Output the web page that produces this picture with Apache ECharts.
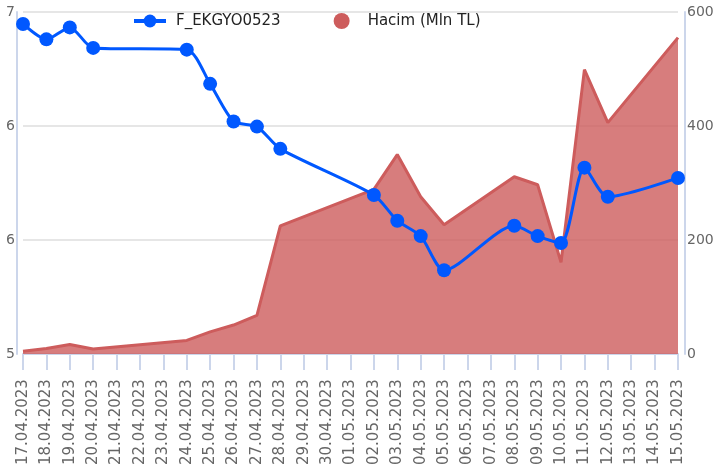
<!DOCTYPE html>
<html>
    <head>
        <meta charset="utf-8">
        <title>F_EKGYO0523</title>
        <script src="https://cdn.jsdelivr.net/npm/echarts@6/dist/echarts.min.js"></script>
        <style>
            html, body { margin: 0; padding: 0; background: #fff; }
        </style>
    </head>
    <body>
        <div id="chart1" style="width:717px;height:468px;"></div>
    </body>
    <script type="text/javascript">
        // gunluk tarihler (hafta sonu / tatil gunleri bos)
        var dates = ['17.04.2023', '18.04.2023', '19.04.2023', '20.04.2023', '21.04.2023', '22.04.2023', '23.04.2023',
                     '24.04.2023', '25.04.2023', '26.04.2023', '27.04.2023', '28.04.2023', '29.04.2023', '30.04.2023',
                     '01.05.2023', '02.05.2023', '03.05.2023', '04.05.2023', '05.05.2023', '06.05.2023', '07.05.2023',
                     '08.05.2023', '09.05.2023', '10.05.2023', '11.05.2023', '12.05.2023', '13.05.2023', '14.05.2023',
                     '15.05.2023'];
        var price = [6.93, 6.84, 6.91, 6.79, null, null, null,
                     6.78, 6.58, 6.36, 6.33, 6.20, null, null,
                     null, 5.93, 5.78, 5.69, 5.49, null, null,
                     5.75, 5.69, 5.65, 6.09, 5.92, null, null,
                     6.03];
        var volume = [5, 10, 17, 9, null, null, null,
                      24, 39, 51, 68, 225, null, null,
                      null, 289, 350, 276, 227, null, null,
                      311, 297, 161, 499, 406, null, null,
                      555];

        var myChart1 = echarts.init(document.getElementById('chart1'));
        var axisColor = '#ccd6eb';
        var labelFont = 'DejaVu Sans';

        myChart1.setOption({
            animation: false,
            legend: {
                top: 8,
                left: 127,
                itemWidth: 32,
                itemHeight: 16,
                itemGap: 53,
                lineStyle: { width: 4 },
                textStyle: { fontSize: 15, color: '#222', fontFamily: labelFont, padding: [0, 0, 0, 5] },
                data: [
                    { name: 'F_EKGYO0523' },
                    { name: 'Hacim (Mln TL)', icon: 'circle' }
                ]
            },
            grid: {
                left: 23,
                right: 39,
                top: 12,
                bottom: 113
            },
            xAxis: {
                type: 'category',
                boundaryGap: false,
                data: dates,
                axisLine: { lineStyle: { color: axisColor, width: 2 } },
                axisTick: { length: 16, lineStyle: { color: axisColor, width: 2 } },
                axisLabel: {
                    rotate: 90,
                    interval: 0,
                    margin: 25,
                    fontSize: 15,
                    color: '#666',
                    fontFamily: labelFont
                }
            },
            yAxis: [
                {
                    // sag eksen: hacim
                    type: 'value',
                    position: 'right',
                    offset: 7,
                    min: 0,
                    max: 600,
                    interval: 200,
                    axisLine: { show: true, lineStyle: { color: axisColor, width: 2 } },
                    axisTick: { show: false },
                    axisLabel: { margin: 2, fontSize: 14, color: '#666', fontFamily: labelFont },
                    splitLine: { lineStyle: { color: '#e6e6e6', width: 2 } }
                },
                {
                    // sol eksen: fiyat
                    type: 'value',
                    position: 'left',
                    offset: 6,
                    min: 5,
                    max: 7,
                    alignTicks: true,
                    axisLine: { show: true, lineStyle: { color: axisColor, width: 2 } },
                    axisTick: { show: false },
                    axisLabel: {
                        margin: 2,
                        fontSize: 14,
                        color: '#666',
                        fontFamily: labelFont,
                        formatter: function (v) { return Math.round(v).toString(); }
                    },
                    splitLine: { show: false }
                }
            ],
            series: [
                {
                    name: 'F_EKGYO0523',
                    type: 'line',
                    yAxisIndex: 1,
                    z: 3,
                    smooth: 0.25,
                    connectNulls: true,
                    symbol: 'circle',
                    symbolSize: 14,
                    itemStyle: { color: '#0058ff' },
                    lineStyle: { color: '#0058ff', width: 3 },
                    data: price
                },
                {
                    name: 'Hacim (Mln TL)',
                    type: 'line',
                    yAxisIndex: 0,
                    z: 1,
                    connectNulls: true,
                    symbol: 'none',
                    itemStyle: { color: '#cd5c5c' },
                    lineStyle: { color: '#cd5c5c', width: 3 },
                    areaStyle: { color: '#cd5c5c', opacity: 0.8 },
                    data: volume
                }
            ]
        });
    </script>
</html>
